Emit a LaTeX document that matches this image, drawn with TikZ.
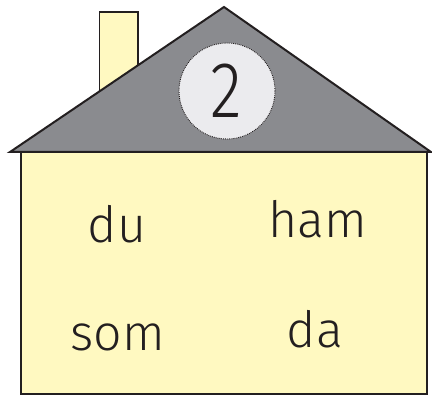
\documentclass[tikz,border=0pt]{standalone}
\usepackage{fontspec}
\setmainfont{Fira Sans}[UprightFont=* Light]
\definecolor{wall}{RGB}{255,249,193}
\definecolor{roof}{RGB}{138,139,143}
\definecolor{disc}{RGB}{235,235,238}
\definecolor{ink}{RGB}{35,31,32}
\begin{document}
\begin{tikzpicture}[x=1pt,y=-1pt,
  outline/.style={draw=ink,line width=2pt,line join=miter},
  word/.style={text=ink,font=\fontsize{50}{50}\selectfont,inner sep=0pt,anchor=base}]
\useasboundingbox (0,0) rectangle (432,396);
\path[outline,fill=wall,line width=1.6pt] (99.5,12) rectangle (138,100);
\path[outline,fill=wall] (21,152) rectangle (427,394);
\path[outline,fill=roof] (10,152) -- (224,7) -- (431,152) -- cycle;
\node[circle,draw=ink,densely dotted,line width=0.9pt,fill=disc,minimum size=96pt,inner sep=0pt] (num) at (227,91) {};
\node[text=ink,font=\fontsize{66}{66}\selectfont,yscale=1.2,inner sep=0pt] at (226,91) {2};
\node[word] (du) at (117,243) {du};
\node[word] (ham) at (318,237) {ham};
\node[word] (som) at (118,350) {som};
\node[word] (da) at (315,347) {da};
\end{tikzpicture}
\end{document}
